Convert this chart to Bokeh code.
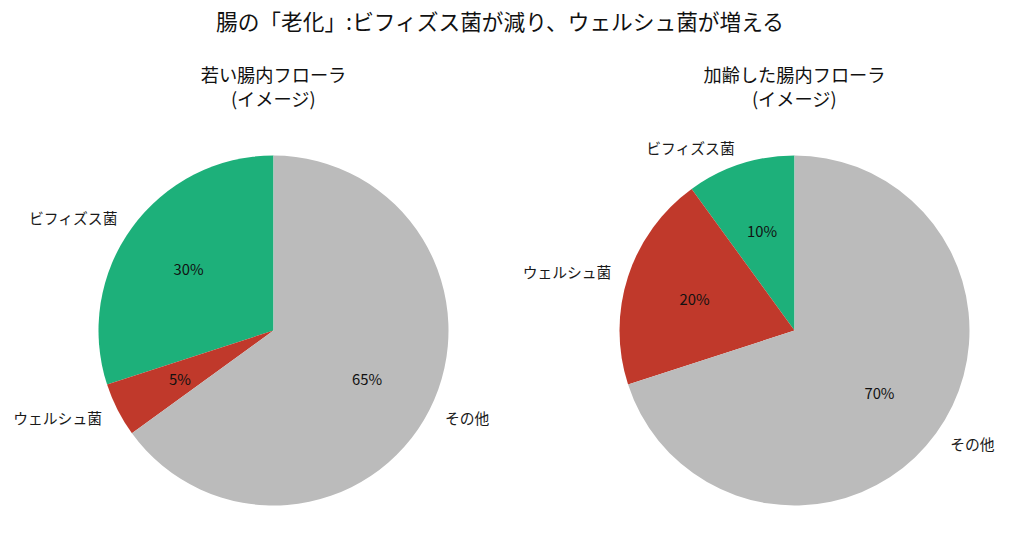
import numpy as np
from bokeh.plotting import figure
from bokeh.models import Range1d, ColumnDataSource
from bokeh.core.properties import value
from bokeh.embed import file_html
from bokeh.resources import INLINE

# ---- data ----
categories = ["ビフィズス菌", "ウェルシュ菌", "その他"]
young_values = [30, 5, 65]
aged_values = [10, 20, 70]
colors = ["#1db07a", "#c0392b", "#bbbbbb"]
main_title = "腸の「老化」:ビフィズス菌が減り、ウェルシュ菌が増える"
sub_titles = [["若い腸内フローラ", "(イメージ)"], ["加齢した腸内フローラ", "(イメージ)"]]

FONT = "Noto Sans CJK JP"
W, H = 1008, 544

p = figure(width=W, height=H, output_backend="svg", toolbar_location=None,
           x_range=Range1d(0, W), y_range=Range1d(0, H), min_border=0,
           outline_line_color=None, tools="")
p.axis.visible = False
p.grid.visible = False
p.background_fill_color = "white"
p.border_fill_color = "white"

R = 175
centers = [(273, 214), (794, 214)]

for (cx, cy), vals, subs in zip(centers, [young_values, aged_values], sub_titles):
    v = np.array(vals, dtype=float)
    frac = v / v.sum()
    cum = np.concatenate([[0], np.cumsum(frac)])
    start = np.deg2rad(90 + 360 * cum[:-1])
    end = np.deg2rad(90 + 360 * cum[1:])
    mid = (start + end) / 2
    src = ColumnDataSource(dict(start=start, end=end, color=colors))
    p.wedge(x=cx, y=cy, radius=R, start_angle="start", end_angle="end",
            direction="anticlock", fill_color="color", line_color=None, source=src)
    # labels
    lx = cx + 1.1 * R * np.cos(mid)
    ly = cy + 1.1 * R * np.sin(mid)
    align = ["right" if x < cx else "left" for x in lx]
    lsrc = ColumnDataSource(dict(x=lx, y=ly, t=categories, a=align))
    p.text(x="x", y="y", text="t", text_align="a", text_baseline="middle",
           text_font=value(FONT), text_font_size="14.8px", text_color="#1a1a1a", source=lsrc)
    # percentages
    px = cx + 0.6 * R * np.cos(mid)
    py = cy + 0.6 * R * np.sin(mid)
    pct = [f"{f*100:.0f}%" for f in frac]
    psrc = ColumnDataSource(dict(x=px, y=py, t=pct))
    p.text(x="x", y="y", text="t", text_align="center", text_baseline="middle",
           text_font=value(FONT), text_font_size="14.8px", text_color="#111111", source=psrc)
    # subtitle
    p.text(x=[cx, cx], y=[471, 447], text=subs, text_align="center", text_baseline="middle",
           text_font=value(FONT), text_font_size="18.2px", text_color="#111111")

p.text(x=[500], y=[524], text=[main_title], text_align="center", text_baseline="middle",
       text_font=value(FONT), text_font_size="21.7px", text_color="#111111")

open("out.html", "w").write(file_html(p, INLINE))
